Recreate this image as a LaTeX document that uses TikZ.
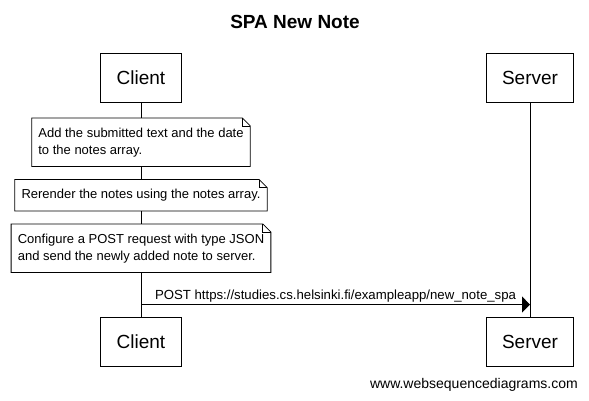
\documentclass[tikz,border=0pt]{standalone}
\usepackage{fontspec}
\setmainfont{Liberation Sans}
\usepackage{tikz}
\usetikzlibrary{positioning, arrows.meta}

\tikzset{
  actor/.style={draw, line width=1pt, inner xsep=16pt, minimum height=49pt,
    font=\fontsize{19}{23}\selectfont},
  note/.style={fill=white, inner xsep=6.5pt, inner ysep=9.5pt, align=left,
    font=\fontsize{13}{17}\selectfont},
  fold/.style={line width=0.8pt},
}

\begin{document}
\begin{tikzpicture}[x=1pt, y=-1pt]
    \useasboundingbox (0,0) rectangle (589,400);%

    % Title
    \node [font=\bfseries\fontsize{19}{23}\selectfont] (title) at (295,22)
    {SPA New Note};%

    % Actors
    \node [actor, anchor=north] (CT) at (141,53) {Client};%
    \node [actor, anchor=north] (ST) at (530,53) {Server};%
    \node [actor, anchor=north] (CB) at (141,317) {Client};%
    \node [actor, anchor=north] (SB) at (530,317) {Server};%

    % lifelines
    \draw [line width=1pt] (CT.south) -- (CB.north);%
    \draw [line width=1pt] (ST.south) -- (SB.north);%

    % Notes
    \node [note, below=15pt of CT] (N1)
    {Add the submitted text and the date\\to the notes array.};%
    \node [note, below=13pt of N1] (N2)
    {Rerender the notes using the notes array.};%
    \node [note, below=13pt of N2] (N3)
    {Configure a POST request with type JSON\\and send the newly added note to
      server.};%
    \foreach \n in {N1,N2,N3} {
      \draw [fold] (\n.north west) -- ([xshift=-8pt]\n.north east) --
      ([yshift=-8pt]\n.north east) -- (\n.south east) -- (\n.south west) --
      cycle;%
      \draw [fold] ([xshift=-8pt]\n.north east) |- ([yshift=-8pt]\n.north
      east);%
    }

    % arrows
    \coordinate (from) at ([yshift=-32pt]N3.south -| CT.south);%
    \draw [line width=1pt, -{Triangle[length=8pt, width=16pt]}] (from) --
    (from -| ST.south) node [midway, above=2pt, inner sep=0pt,
    font=\fontsize{13.2}{16}\selectfont] (msg)
    {POST https://studies.cs.helsinki.fi/exampleapp/new\_note\_spa};%

    % footer
    \node [anchor=east, inner sep=0pt, font=\fontsize{14}{17}\selectfont]
    (wsd) at (578,385) {www.websequencediagrams.com};%
  \end{tikzpicture}
\end{document}
